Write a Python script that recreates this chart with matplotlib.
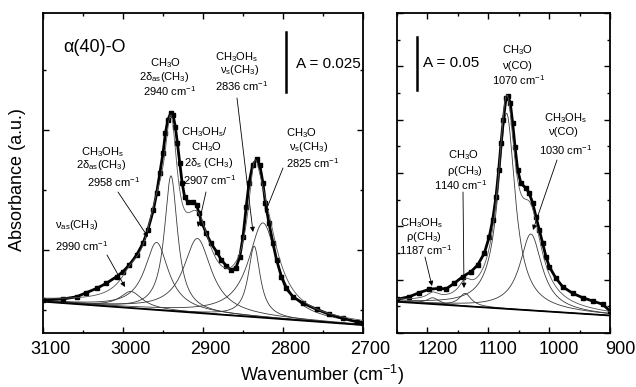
import numpy as np
import matplotlib
matplotlib.use('Agg')
import matplotlib.pyplot as plt
from matplotlib.ticker import MultipleLocator, FixedLocator
from matplotlib.transforms import ScaledTranslation

plt.rcParams['font.family'] = ['Liberation Sans', 'DejaVu Sans']
plt.rcParams['mathtext.fontset'] = 'custom'
plt.rcParams['mathtext.rm'] = 'Liberation Sans'
plt.rcParams['mathtext.it'] = 'Liberation Sans:italic'
plt.rcParams['mathtext.default'] = 'regular'

# ---------------- data: C-H region (left panel) ----------------
ch_wn = [3100, 3075, 3058, 3046, 3033, 3021, 3008, 3000, 2992, 2983, 2975, 2969,
         2962, 2958, 2954, 2950, 2947, 2944, 2940, 2937.5, 2934.6, 2932, 2929, 2926,
         2923, 2919, 2912.5, 2908, 2905, 2901, 2896, 2890, 2883, 2877, 2871, 2865,
         2859, 2854, 2850, 2846, 2842.5, 2838, 2833, 2829, 2825, 2822, 2817.5, 2812.5,
         2808, 2802, 2796, 2787.5, 2775, 2758, 2742, 2725, 2708, 2700]
ch_abs = [0.0292, 0.0296, 0.0305, 0.0322, 0.0340, 0.0361, 0.0389, 0.0410, 0.0438, 0.0479,
          0.0528, 0.0583, 0.0667, 0.0736, 0.0820, 0.0903, 0.0986, 0.1042, 0.1072, 0.1063,
          0.1014, 0.0945, 0.0861, 0.0778, 0.0722, 0.0701, 0.0701, 0.0688, 0.0653, 0.0611,
          0.0570, 0.0528, 0.0493, 0.0458, 0.0435, 0.0417, 0.0424, 0.0472, 0.0555, 0.0680,
          0.0778, 0.0854, 0.0878, 0.0854, 0.0778, 0.0695, 0.0611, 0.0528, 0.0458, 0.0389,
          0.0340, 0.0305, 0.0278, 0.0253, 0.0232, 0.0215, 0.0201, 0.0197]
ch_base_wn = [3100, 2700]
ch_base_abs = [0.0285, 0.01875]
ch_peak_center = [2990, 2958, 2940, 2907, 2836, 2825]
ch_peak_height = [0.0069, 0.0281, 0.0563, 0.0310, 0.0295, 0.0395]
ch_peak_hwhm = [17, 18, 10, 21, 9, 22]

# ---------------- data: C-O region (right panel) ----------------
co_wn = [1250, 1229.8, 1213.4, 1196.9, 1180.5, 1169.5, 1155.9, 1142.1, 1128.4, 1117.4,
         1106.6, 1098.3, 1092.8, 1087.3, 1082.9, 1079.1, 1075.3, 1070.9, 1067.6, 1063.8,
         1059.9, 1056.1, 1051.7, 1046.3, 1038.0, 1032.6, 1027.0, 1021.6, 1016.2, 1010.6,
         1005.2, 999.8, 988.8, 977.8, 961.3, 944.9, 928.5, 912.0, 900]
co_abs = [0.0316, 0.0340, 0.0378, 0.0410, 0.0419, 0.0413, 0.0466, 0.0528, 0.0575, 0.0638,
          0.0747, 0.0903, 0.1059, 0.1278, 0.1528, 0.1778, 0.1997, 0.2200, 0.2222, 0.2153,
          0.1966, 0.1747, 0.1528, 0.1403, 0.1357, 0.1310, 0.1216, 0.1090, 0.0966, 0.0841,
          0.0715, 0.0622, 0.0513, 0.0434, 0.0372, 0.0331, 0.0300, 0.0269, 0.0206]
co_base_wn = [1250, 900]
co_base_abs = [0.0293, 0.0164]
co_peak_center = [1191, 1138, 1070, 1030]
co_peak_height = [0.0059, 0.0120, 0.1833, 0.0716]
co_peak_hwhm = [12, 12, 17, 22]

xticks_ch = [3100, 3000, 2900, 2800, 2700]
xticks_co = [1200, 1100, 1000, 900]

# ---------------- figure ----------------
W, H = 636, 387
fig = plt.figure(figsize=(W / 100, H / 100), dpi=100)


def fx(px):
    return px / W


def fy(py):
    return 1 - py / H


ax1 = fig.add_axes([fx(43), fy(333), (363 - 43) / W, (333 - 13) / H])
ax2 = fig.add_axes([fx(397), fy(333), (610 - 397) / W, (333 - 13) / H])


def lorentz(x, c, h, g):
    return h / (1 + ((x - c) / g) ** 2)


def draw_panel(ax, wn, ab, bwn, bab, cen, hei, hw, xlim):
    grid = np.linspace(xlim[0], xlim[1], 800)
    base = np.interp(grid, bwn[::-1], bab[::-1])
    total = base.copy()
    for c, h, g in zip(cen, hei, hw):
        comp = lorentz(grid, c, h, g)
        total += comp
        ax.plot(grid, base + comp, color='#3a3a3a', lw=0.6, zorder=2)
    ax.plot(bwn, bab, color='black', lw=1.3, zorder=2)
    ax.plot(wn, ab, color='black', lw=2.0, marker='s', ms=3.3, zorder=3)
    ax.plot(grid, total, color='#555555', lw=0.6, zorder=4)
    ax.set_xlim(*xlim)


draw_panel(ax1, ch_wn, ch_abs, ch_base_wn, ch_base_abs,
           ch_peak_center, ch_peak_height, ch_peak_hwhm, (3100, 2700))
draw_panel(ax2, co_wn, co_abs, co_base_wn, co_base_abs,
           co_peak_center, co_peak_height, co_peak_hwhm, (1250, 900))

ax1.set_ylim(0.01542, 0.14875)
ax2.set_ylim(0.0, 0.30)

for ax, ticks, ymaj, ymin, dx in [(ax1, xticks_ch, 0.05, 0.025, 7.5),
                                  (ax2, xticks_co, 0.05, 0.025, 10)]:
    ax.xaxis.set_major_locator(FixedLocator(ticks))
    ax.xaxis.set_minor_locator(MultipleLocator(50))
    ax.yaxis.set_major_locator(MultipleLocator(ymaj))
    ax.yaxis.set_minor_locator(MultipleLocator(ymin))
    ax.set_xticklabels([str(t) for t in ticks])
    ax.set_yticklabels([])
    ax.tick_params(which='both', direction='in', top=True, right=True,
                   labelsize=13, width=1.0, pad=6)
    ax.tick_params(which='major', length=4.5)
    ax.tick_params(which='minor', length=2.5)
    for s in ax.spines.values():
        s.set_linewidth(1.3)
    off = ScaledTranslation(dx / 100, 0, fig.dpi_scale_trans)
    for lab in ax.get_xticklabels():
        lab.set_transform(lab.get_transform() + off)

# scale bars
ax1.plot([2796, 2796], [0.1158, 0.1408], color='black', lw=1.8)
ax2.plot([1217, 1217], [0.2278, 0.2778], color='black', lw=1.8)
fig.text(fx(296), fy(64), 'A = 0.025', fontsize=11, ha='left', va='center')
fig.text(fx(423), fy(63), 'A = 0.05', fontsize=11, ha='left', va='center')
fig.text(fx(63), fy(47), 'α(40)-O', fontsize=13, ha='left', va='center')

# axis titles
fig.text(fx(322), fy(375), 'Wavenumber (cm$^{-1}$)', fontsize=13, ha='center', va='center')
fig.text(fx(18), fy(180), 'Absorbance (a.u.)', fontsize=13, ha='center', va='center',
         rotation=90)

# peak annotations (line text, x centre px, y centre px)
labels = [
    ('CH$_3$O', 165, 63), ('2δ$_{as}$(CH$_3$)', 164, 77), ('2940 cm$^{-1}$', 170, 91),
    ('CH$_3$OH$_s$', 237, 57), ('ν$_s$(CH$_3$)', 240, 70), ('2836 cm$^{-1}$', 242, 86),
    ('CH$_3$OH$_s$/', 204, 132), ('CH$_3$O', 206, 147), ('2δ$_s$ (CH$_3$)', 209, 163),
    ('2907 cm$^{-1}$', 210, 180),
    ('CH$_3$O', 301, 133), ('ν$_s$(CH$_3$)', 309, 147), ('2825 cm$^{-1}$', 313, 163),
    ('CH$_3$OH$_s$', 103, 152), ('2δ$_{as}$(CH$_3$)', 101, 165), ('2958 cm$^{-1}$', 114, 182),
    ('ν$_{as}$(CH$_3$)', 77, 225), ('2990 cm$^{-1}$', 82, 246),
    ('CH$_3$O', 517, 50), ('ν(CO)', 517, 66), ('1070 cm$^{-1}$', 519, 80),
    ('CH$_3$OH$_s$', 566, 118), ('ν(CO)', 563, 132), ('1030 cm$^{-1}$', 566, 150),
    ('CH$_3$O', 463, 155), ('ρ(CH$_3$)', 465, 171), ('1140 cm$^{-1}$', 461, 185),
    ('CH$_3$OH$_s$', 422, 223), ('ρ(CH$_3$)', 424, 237), ('1187 cm$^{-1}$', 426, 250),
]
for txt, px, py in labels:
    fig.text(fx(px), fy(py), txt, fontsize=8, ha='center', va='center')

arrows = [
    ((107, 255), (125, 287)),
    ((118, 192), (148, 237)),
    ((206, 192), (198, 227)),
    ((237, 98), (253, 232)),
    ((283, 168), (265, 213)),
    ((425, 257), (432, 286)),
    ((463, 192), (464, 288)),
    ((557, 160), (533, 230)),
]
for (x0, y0), (x1, y1) in arrows:
    fig.add_artist(matplotlib.patches.FancyArrowPatch(
        (fx(x0), fy(y0)), (fx(x1), fy(y1)), transform=fig.transFigure,
        arrowstyle='-|>', mutation_scale=7, lw=0.6, color='black',
        shrinkA=0, shrinkB=0))

fig.savefig('out.png', dpi=100)
